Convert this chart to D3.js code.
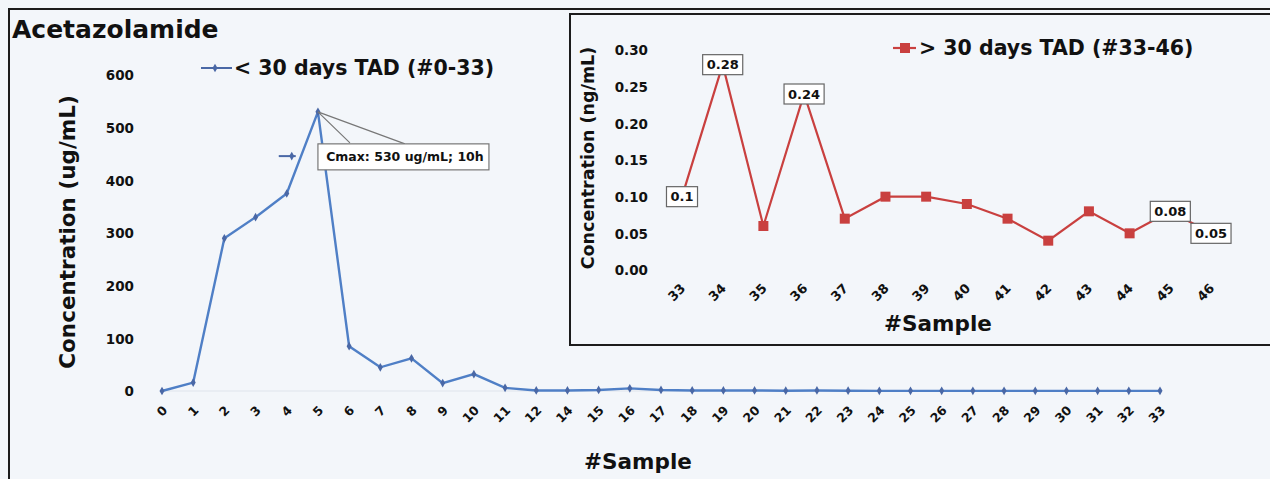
<!DOCTYPE html>
<html>
<head>
<meta charset="utf-8">
<script src="https://cdn.jsdelivr.net/npm/d3@7"></script>
<style>
  html, body { margin: 0; padding: 0; background: #f3f6fa; }
  svg { display: block; }
  text { font-family: "DejaVu Sans", Verdana, sans-serif; font-weight: bold; fill: #111; }
</style>
</head>
<body>
<svg id="chart" width="1270" height="479"></svg>
<script>
// Samples taken less than 30 days after dosing (sample 13 was not collected)
const earlySamples = ["0","1","2","3","4","5","6","7","8","9","10","11","12",
  "14","15","16","17","18","19","20","21","22","23","24","25","26","27","28","29","30","31","32","33"];
const earlyConc = [0, 16, 290, 330, 375, 530, 85, 45, 62, 15, 32, 6, 1,
  1, 2, 5, 2, 1, 1, 1, 0.5, 1, 0.5, 0.3, 0.3, 0.3, 0.3, 0.3, 0.3, 0.3, 0.3, 0.3, 0.3];
const earlyTicks = [0, 100, 200, 300, 400, 500, 600];

// Samples taken more than 30 days after dosing
const lateSamples = ["33","34","35","36","37","38","39","40","41","42","43","44","45","46"];
const lateConc = [0.10, 0.28, 0.06, 0.24, 0.07, 0.10, 0.10, 0.09, 0.07, 0.04, 0.08, 0.05, 0.08, 0.05];
const lateTicks = [0, 0.05, 0.10, 0.15, 0.20, 0.25, 0.30];
const lateLabelled = ["33", "34", "36", "45", "46"];

const peakNote = { sample: "5", value: 530, text: "Cmax: 530 ug/mL; 10h" };
const strayKey = { sample: "4", value: 446 };

const blue = "#4f7fc6", blueMark = "#4a68a6", red = "#c9403f";
const svg = d3.select("#chart");

// outer frame (top and left edges)
svg.append("path").attr("d", "M9,479 V9 H1270").attr("fill", "none")
  .attr("stroke", "#1c1c1c").attr("stroke-width", 2);

svg.append("text").attr("x", 12).attr("y", 38).attr("font-size", 25).text("Acetazolamide");

// ---------- main chart ----------
const x = d3.scalePoint().domain(earlySamples).range([162, 1160]);
const y = d3.scaleLinear().domain([0, 600]).range([391, 75]);

svg.append("line").attr("x1", x("0")).attr("x2", x("33")).attr("y1", y(0)).attr("y2", y(0))
  .attr("stroke", "#dfe4ec").attr("stroke-width", 1);

const yAx = svg.append("g").attr("transform", "translate(137,0)")
  .call(d3.axisLeft(y).tickValues(earlyTicks).tickSize(0).tickPadding(3));
yAx.select(".domain").remove();
yAx.selectAll("text").attr("font-size", 13.5).attr("fill", "#111").attr("dy", "0.35em");

const xAx = svg.append("g");
xAx.selectAll("text").data(earlySamples).join("text")
  .attr("transform", d => `translate(${x(d) + 3},408) rotate(-45)`)
  .attr("text-anchor", "end").attr("dy", "0.35em").attr("font-size", 12.5).text(d => d);

svg.append("text").attr("transform", `translate(75,232) rotate(-90)`)
  .attr("text-anchor", "middle").attr("font-size", 21.5).text("Concentration (ug/mL)");
svg.append("text").attr("x", 638).attr("y", 469).attr("text-anchor", "middle")
  .attr("font-size", 21.5).text("#Sample");

const earlyData = earlySamples.map((s, i) => ({ s, v: earlyConc[i] }));
svg.append("path").datum(earlyData)
  .attr("d", d3.line().x(d => x(d.s)).y(d => y(d.v)))
  .attr("fill", "none").attr("stroke", blue).attr("stroke-width", 2.4);
svg.append("g").selectAll("path").data(earlyData).join("path")
  .attr("transform", d => `translate(${x(d.s)},${y(d.v)})`)
  .attr("d", d3.symbol(d3.symbolDiamond, 22)).attr("fill", blueMark);

// stray legend key left on the plot
const sx = x(strayKey.sample), sy = y(strayKey.value);
svg.append("line").attr("x1", sx - 8).attr("x2", sx + 9).attr("y1", sy).attr("y2", sy)
  .attr("stroke", blueMark).attr("stroke-width", 2);
svg.append("path").attr("transform", `translate(${sx + 5},${sy})`)
  .attr("d", d3.symbol(d3.symbolDiamond, 22)).attr("fill", blueMark);

// peak callout
const px = x(peakNote.sample), py = y(peakNote.value);
svg.append("path").attr("d", `M${px + 32},${py + 31} L${px},${py} L${px + 87},${py + 32}`)
  .attr("fill", "none").attr("stroke", "#777").attr("stroke-width", 1.2);
svg.append("rect").attr("x", px).attr("y", py + 32).attr("width", 171).attr("height", 26)
  .attr("fill", "#fff").attr("stroke", "#777").attr("stroke-width", 1.2);
svg.append("text").attr("x", px + 87).attr("y", py + 45).attr("dy", "0.35em")
  .attr("text-anchor", "middle").attr("font-size", 12.5).text(peakNote.text);

// main legend
svg.append("line").attr("x1", 201).attr("x2", 232).attr("y1", 68).attr("y2", 68)
  .attr("stroke", blueMark).attr("stroke-width", 2);
svg.append("path").attr("transform", "translate(215,68)")
  .attr("d", d3.symbol(d3.symbolDiamond, 22)).attr("fill", blueMark);
svg.append("text").attr("x", 234).attr("y", 75).attr("font-size", 20.5).text("< 30 days TAD (#0-33)");

// ---------- inset chart ----------
svg.append("rect").attr("x", 570).attr("y", 14).attr("width", 720).attr("height", 331)
  .attr("fill", "#f3f6fa").attr("stroke", "#1c1c1c").attr("stroke-width", 2);

const xi = d3.scalePoint().domain(lateSamples).range([682, 1211]);
const yi = d3.scaleLinear().domain([0, 0.3]).range([270, 50]);

const yiAx = svg.append("g").attr("transform", "translate(651,0)")
  .call(d3.axisLeft(yi).tickValues(lateTicks).tickFormat(d3.format(".2f")).tickSize(0).tickPadding(3));
yiAx.select(".domain").remove();
yiAx.selectAll("text").attr("font-size", 13.5).attr("fill", "#111").attr("dy", "0.35em");

svg.append("g").selectAll("text").data(lateSamples).join("text")
  .attr("transform", d => `translate(${xi(d) + 1},286) rotate(-45)`)
  .attr("text-anchor", "end").attr("dy", "0.35em").attr("font-size", 13).text(d => d);

svg.append("text").attr("transform", "translate(594,158) rotate(-90)")
  .attr("text-anchor", "middle").attr("font-size", 17.5).text("Concentration (ng/mL)");
svg.append("text").attr("x", 938).attr("y", 331).attr("text-anchor", "middle")
  .attr("font-size", 21.5).text("#Sample");

const lateData = lateSamples.map((s, i) => ({ s, v: lateConc[i] }));
svg.append("path").datum(lateData)
  .attr("d", d3.line().x(d => xi(d.s)).y(d => yi(d.v)))
  .attr("fill", "none").attr("stroke", red).attr("stroke-width", 2.2);
svg.append("g").selectAll("rect").data(lateData).join("rect")
  .attr("x", d => xi(d.s) - 5).attr("y", d => yi(d.v) - 5)
  .attr("width", 10).attr("height", 10).attr("fill", red);

// value labels
const lab = svg.append("g").selectAll("g")
  .data(lateData.filter(d => lateLabelled.includes(d.s))).join("g")
  .attr("transform", d => `translate(${xi(d.s)},${yi(d.v)})`);
lab.append("text").attr("text-anchor", "middle").attr("dy", "0.35em").attr("font-size", 13)
  .text(d => String(+d.v.toFixed(2)));
lab.each(function () {
  const g = d3.select(this), bb = g.select("text").node().getBBox();
  g.insert("rect", "text").attr("x", bb.x - 4).attr("y", -10).attr("width", bb.width + 8).attr("height", 20)
    .attr("fill", "#fff").attr("stroke", "#666").attr("stroke-width", 1.2);
});

// inset legend
svg.append("line").attr("x1", 893).attr("x2", 916).attr("y1", 48).attr("y2", 48)
  .attr("stroke", red).attr("stroke-width", 2.2);
svg.append("rect").attr("x", 900).attr("y", 43).attr("width", 10).attr("height", 10).attr("fill", red);
svg.append("text").attr("x", 919).attr("y", 55).attr("font-size", 20.5).text("> 30 days TAD (#33-46)");
</script>
</body>
</html>
